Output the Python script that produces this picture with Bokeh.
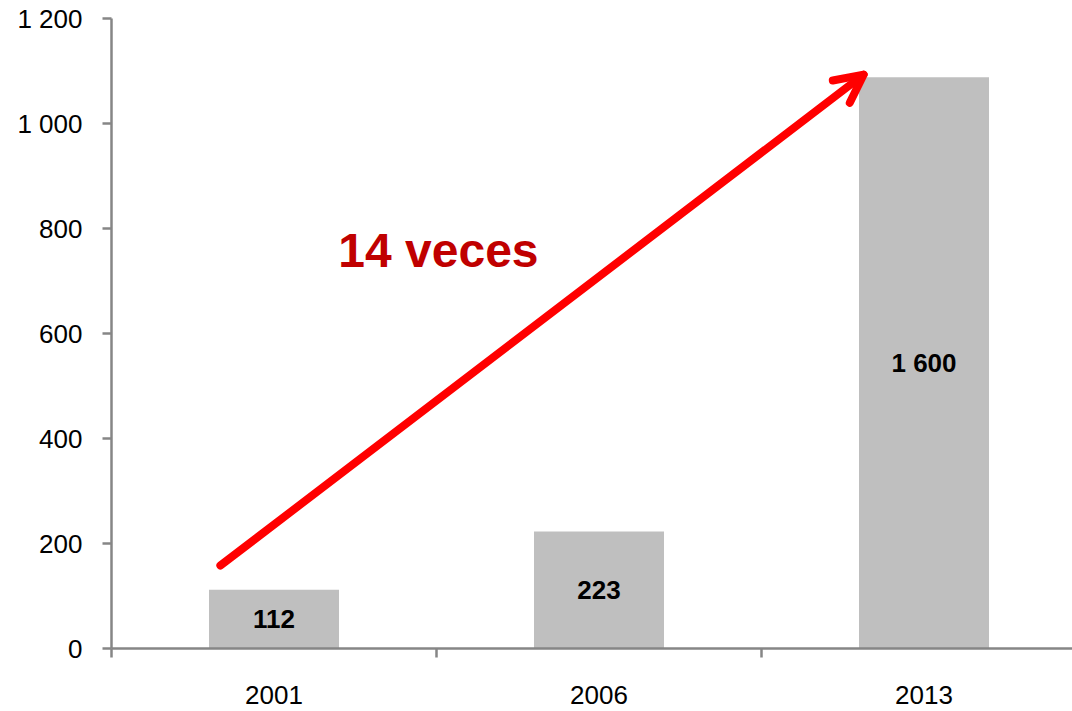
from bokeh.plotting import figure
from bokeh.models import (ColumnDataSource, FixedTicker, Range1d, Arrow, OpenHead, Label)
from bokeh.embed import file_html
from bokeh.resources import INLINE
from bokeh.core.properties import value

# ---- data ----
categories = ["2001", "2006", "2013"]
cat_pos = [0.5, 1.5, 2.5]
bar_values = [112, 223, 1088]
bar_labels = ["112", "223", "1 600"]
y_ticks = [0, 200, 400, 600, 800, 1000, 1200]
y_tick_labels = ["0", "200", "400", "600", "800", "1 000", "1 200"]
arrow_start = [0.335, 158]
arrow_end = [2.314, 1093]
annotation_text = "14 veces"
annotation_pos = [1.006, 758]

FONT = "Liberation Sans"
AXIS_COLOR = "#868686"

p = figure(width=1072, height=711, output_backend="svg", toolbar_location=None,
           x_range=Range1d(0, 961 / 325), y_range=Range1d(0, 1200),
           min_border_left=111, min_border_right=0, min_border_top=18, min_border_bottom=63)
p.outline_line_color = None
p.grid.visible = False
p.background_fill_color = "white"
p.border_fill_color = "white"

src = ColumnDataSource(dict(x=cat_pos, top=bar_values, mid=[v / 2 for v in bar_values], lab=bar_labels))
p.vbar(x="x", top="top", bottom=0, width=0.4, source=src, fill_color="#BFBFBF", line_color=None)
p.text(x="x", y="mid", text="lab", source=src, text_align="center", text_baseline="middle",
       text_font=value(FONT), text_font_size="26px", text_font_style="bold", text_color="black")

# x axis
xa = p.xaxis[0]
xa.ticker = FixedTicker(ticks=cat_pos, minor_ticks=[0, 1, 2, 3])
xa.major_label_overrides = {c: l for c, l in zip(cat_pos, categories)}
xa.major_tick_line_color = None
xa.major_tick_out = 0
xa.major_tick_in = 0
xa.minor_tick_out = 9
xa.minor_tick_in = 0
xa.minor_tick_line_color = AXIS_COLOR
xa.minor_tick_line_width = 2.5
xa.axis_line_color = AXIS_COLOR
xa.axis_line_width = 2.5
xa.major_label_text_font = FONT
xa.major_label_text_font_size = "26px"
xa.major_label_text_color = "black"
xa.major_label_standoff = 28

# y axis
ya = p.yaxis[0]
ya.ticker = FixedTicker(ticks=y_ticks)
ya.major_label_overrides = {t: l for t, l in zip(y_ticks, y_tick_labels)}
ya.major_tick_out = 9
ya.major_tick_in = 0
ya.minor_tick_line_color = None
ya.major_tick_line_color = AXIS_COLOR
ya.major_tick_line_width = 2.5
ya.axis_line_color = AXIS_COLOR
ya.axis_line_width = 2.5
ya.major_label_text_font = FONT
ya.major_label_text_font_size = "26px"
ya.major_label_text_color = "black"
ya.major_label_standoff = 20

# arrow
p.add_layout(Arrow(end=OpenHead(size=28, line_color="#FF0000", line_width=8, line_cap="round", line_join="round"),
                   x_start=arrow_start[0], y_start=arrow_start[1],
                   x_end=arrow_end[0], y_end=arrow_end[1],
                   line_color="#FF0000", line_width=8, line_cap="round"))

p.add_layout(Label(x=annotation_pos[0], y=annotation_pos[1], text=annotation_text,
                   text_align="center", text_baseline="middle", text_font=FONT,
                   text_font_size="48px", text_font_style="bold", text_color="#C00000"))

open("out.html", "w").write(file_html(p, INLINE))
